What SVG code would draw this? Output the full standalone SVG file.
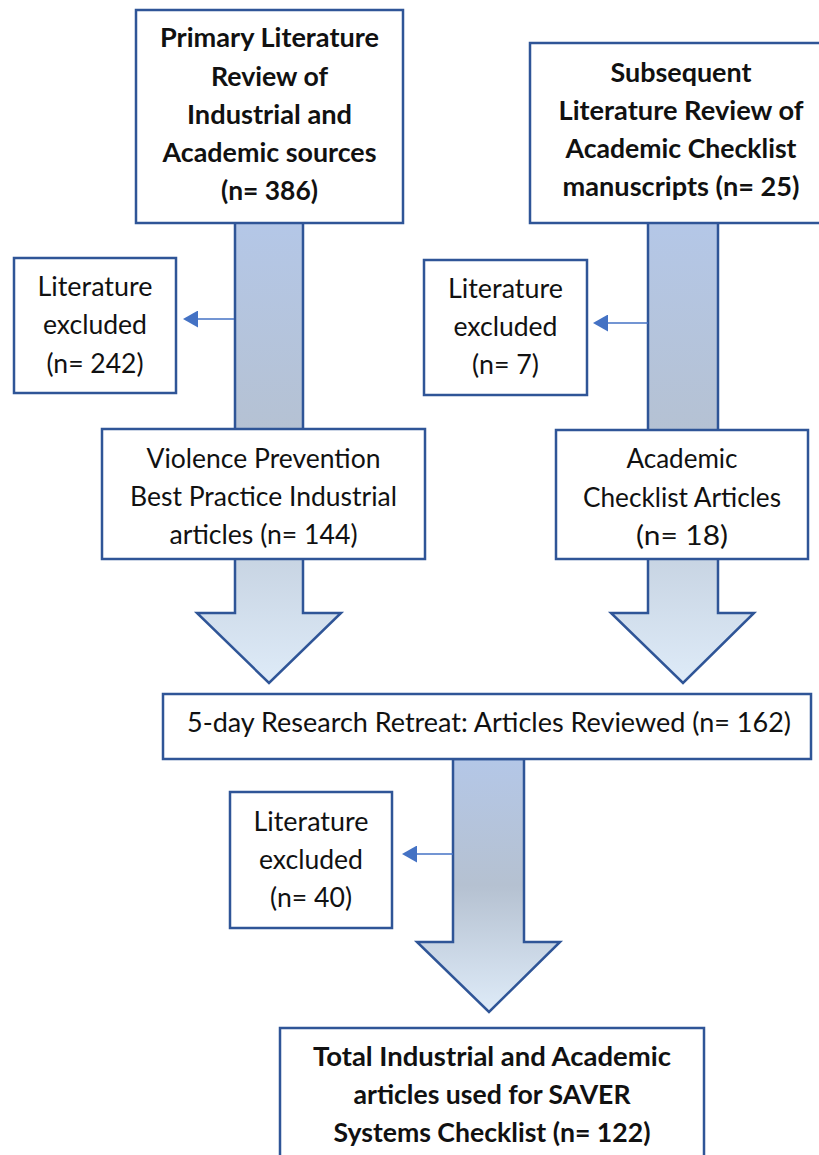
<svg xmlns="http://www.w3.org/2000/svg" width="819" height="1155" viewBox="0 0 819 1155">
<style>
.box{fill:#ffffff;stroke:#2f5597;stroke-width:2.5}
.blk{stroke:#2f5597;stroke-width:2.5;stroke-linejoin:miter}
.thin{stroke:#4472c4;stroke-width:1.6;fill:none}
.t{font-family:Lato,"Open Sans","Liberation Sans",sans-serif;font-size:26px;fill:#111111;text-anchor:middle}
.b{font-weight:bold}
</style>
<defs>
<linearGradient id="g" x1="0" y1="0" x2="0" y2="1">
<stop offset="0" stop-color="#b4c7e7"/>
<stop offset="0.5" stop-color="#b5c1d1"/>
<stop offset="1" stop-color="#deebf8"/>
</linearGradient>
<marker id="ah" viewBox="0 0 15 17" refX="12" refY="8.5" markerWidth="15" markerHeight="17" markerUnits="userSpaceOnUse" orient="auto">
<path d="M0,0 L15,8.5 L0,17 Z" fill="#4472c4"/>
</marker>
</defs>
<g id="connectors">
<path class="blk" fill="url(#g)" d="M235,222 H303 V613 H341 L269,683 L197,613 H235 Z"/>
<path class="blk" fill="url(#g)" d="M648,222 H718 V613 H754 L683,683 L611,613 H648 Z"/>
<path class="blk" fill="url(#g)" d="M453,759 H524 V942 H560 L489,1012 L417,942 H453 Z"/>
<line class="thin" x1="234" y1="319" x2="186" y2="319" marker-end="url(#ah)"/>
<line class="thin" x1="648" y1="323" x2="596" y2="323" marker-end="url(#ah)"/>
<line class="thin" x1="453" y1="854" x2="405" y2="854" marker-end="url(#ah)"/>
</g>
<g id="primary">
<rect class="box" x="136" y="10" width="267" height="213"/>
<text class="t b" x="269.5" y="47" textLength="219" lengthAdjust="spacingAndGlyphs">Primary Literature</text>
<text class="t b" x="269.5" y="86" textLength="117" lengthAdjust="spacingAndGlyphs">Review of</text>
<text class="t b" x="269.5" y="124" textLength="165" lengthAdjust="spacingAndGlyphs">Industrial and</text>
<text class="t b" x="269.5" y="162" textLength="214" lengthAdjust="spacingAndGlyphs">Academic sources</text>
<text class="t b" x="269.5" y="200" textLength="97" lengthAdjust="spacingAndGlyphs">(n= 386)</text>
</g>
<g id="subsequent">
<rect class="box" x="530" y="43" width="304" height="180"/>
<text class="t b" x="681" y="82" textLength="141" lengthAdjust="spacingAndGlyphs">Subsequent</text>
<text class="t b" x="681" y="120" textLength="245" lengthAdjust="spacingAndGlyphs">Literature Review of</text>
<text class="t b" x="681" y="158" textLength="231" lengthAdjust="spacingAndGlyphs">Academic Checklist</text>
<text class="t b" x="681" y="196" textLength="237" lengthAdjust="spacingAndGlyphs">manuscripts (n= 25)</text>
</g>
<g id="excluded1">
<rect class="box" x="14" y="258" width="162" height="135"/>
<text class="t" x="95" y="296" textLength="115" lengthAdjust="spacingAndGlyphs">Literature</text>
<text class="t" x="95" y="334" textLength="104" lengthAdjust="spacingAndGlyphs">excluded</text>
<text class="t" x="95" y="373" textLength="97" lengthAdjust="spacingAndGlyphs">(n= 242)</text>
</g>
<g id="excluded2">
<rect class="box" x="424" y="260" width="163" height="135"/>
<text class="t" x="505.5" y="298" textLength="115" lengthAdjust="spacingAndGlyphs">Literature</text>
<text class="t" x="505.5" y="336" textLength="104" lengthAdjust="spacingAndGlyphs">excluded</text>
<text class="t" x="505.5" y="374" textLength="67" lengthAdjust="spacingAndGlyphs">(n= 7)</text>
</g>
<g id="violence">
<rect class="box" x="102" y="429" width="323" height="130"/>
<text class="t" x="263.5" y="468" textLength="234" lengthAdjust="spacingAndGlyphs">Violence Prevention</text>
<text class="t" x="263.5" y="506" textLength="267" lengthAdjust="spacingAndGlyphs">Best Practice Industrial</text>
<text class="t" x="263.5" y="544" textLength="188" lengthAdjust="spacingAndGlyphs">articles (n= 144)</text>
</g>
<g id="academic">
<rect class="box" x="556" y="430" width="252" height="129"/>
<text class="t" x="682" y="468" textLength="111" lengthAdjust="spacingAndGlyphs">Academic</text>
<text class="t" x="682" y="507" textLength="198" lengthAdjust="spacingAndGlyphs">Checklist Articles</text>
<text class="t" x="682" y="545" textLength="92" lengthAdjust="spacingAndGlyphs">(n= 18)</text>
</g>
<g id="retreat">
<rect class="box" x="163" y="694" width="648" height="65"/>
<text class="t" x="489" y="732" textLength="604" lengthAdjust="spacingAndGlyphs">5-day Research Retreat: Articles Reviewed (n= 162)</text>
</g>
<g id="excluded3">
<rect class="box" x="230" y="792" width="162" height="136"/>
<text class="t" x="311" y="831" textLength="115" lengthAdjust="spacingAndGlyphs">Literature</text>
<text class="t" x="311" y="869" textLength="104" lengthAdjust="spacingAndGlyphs">excluded</text>
<text class="t" x="311" y="907" textLength="82" lengthAdjust="spacingAndGlyphs">(n= 40)</text>
</g>
<g id="total">
<rect class="box" x="280" y="1028" width="424" height="140"/>
<text class="t b" x="492" y="1066" textLength="358" lengthAdjust="spacingAndGlyphs">Total Industrial and Academic</text>
<text class="t b" x="492" y="1104" textLength="277" lengthAdjust="spacingAndGlyphs">articles used for SAVER</text>
<text class="t b" x="492" y="1142" textLength="317" lengthAdjust="spacingAndGlyphs">Systems Checklist (n= 122)</text>
</g>
</svg>
